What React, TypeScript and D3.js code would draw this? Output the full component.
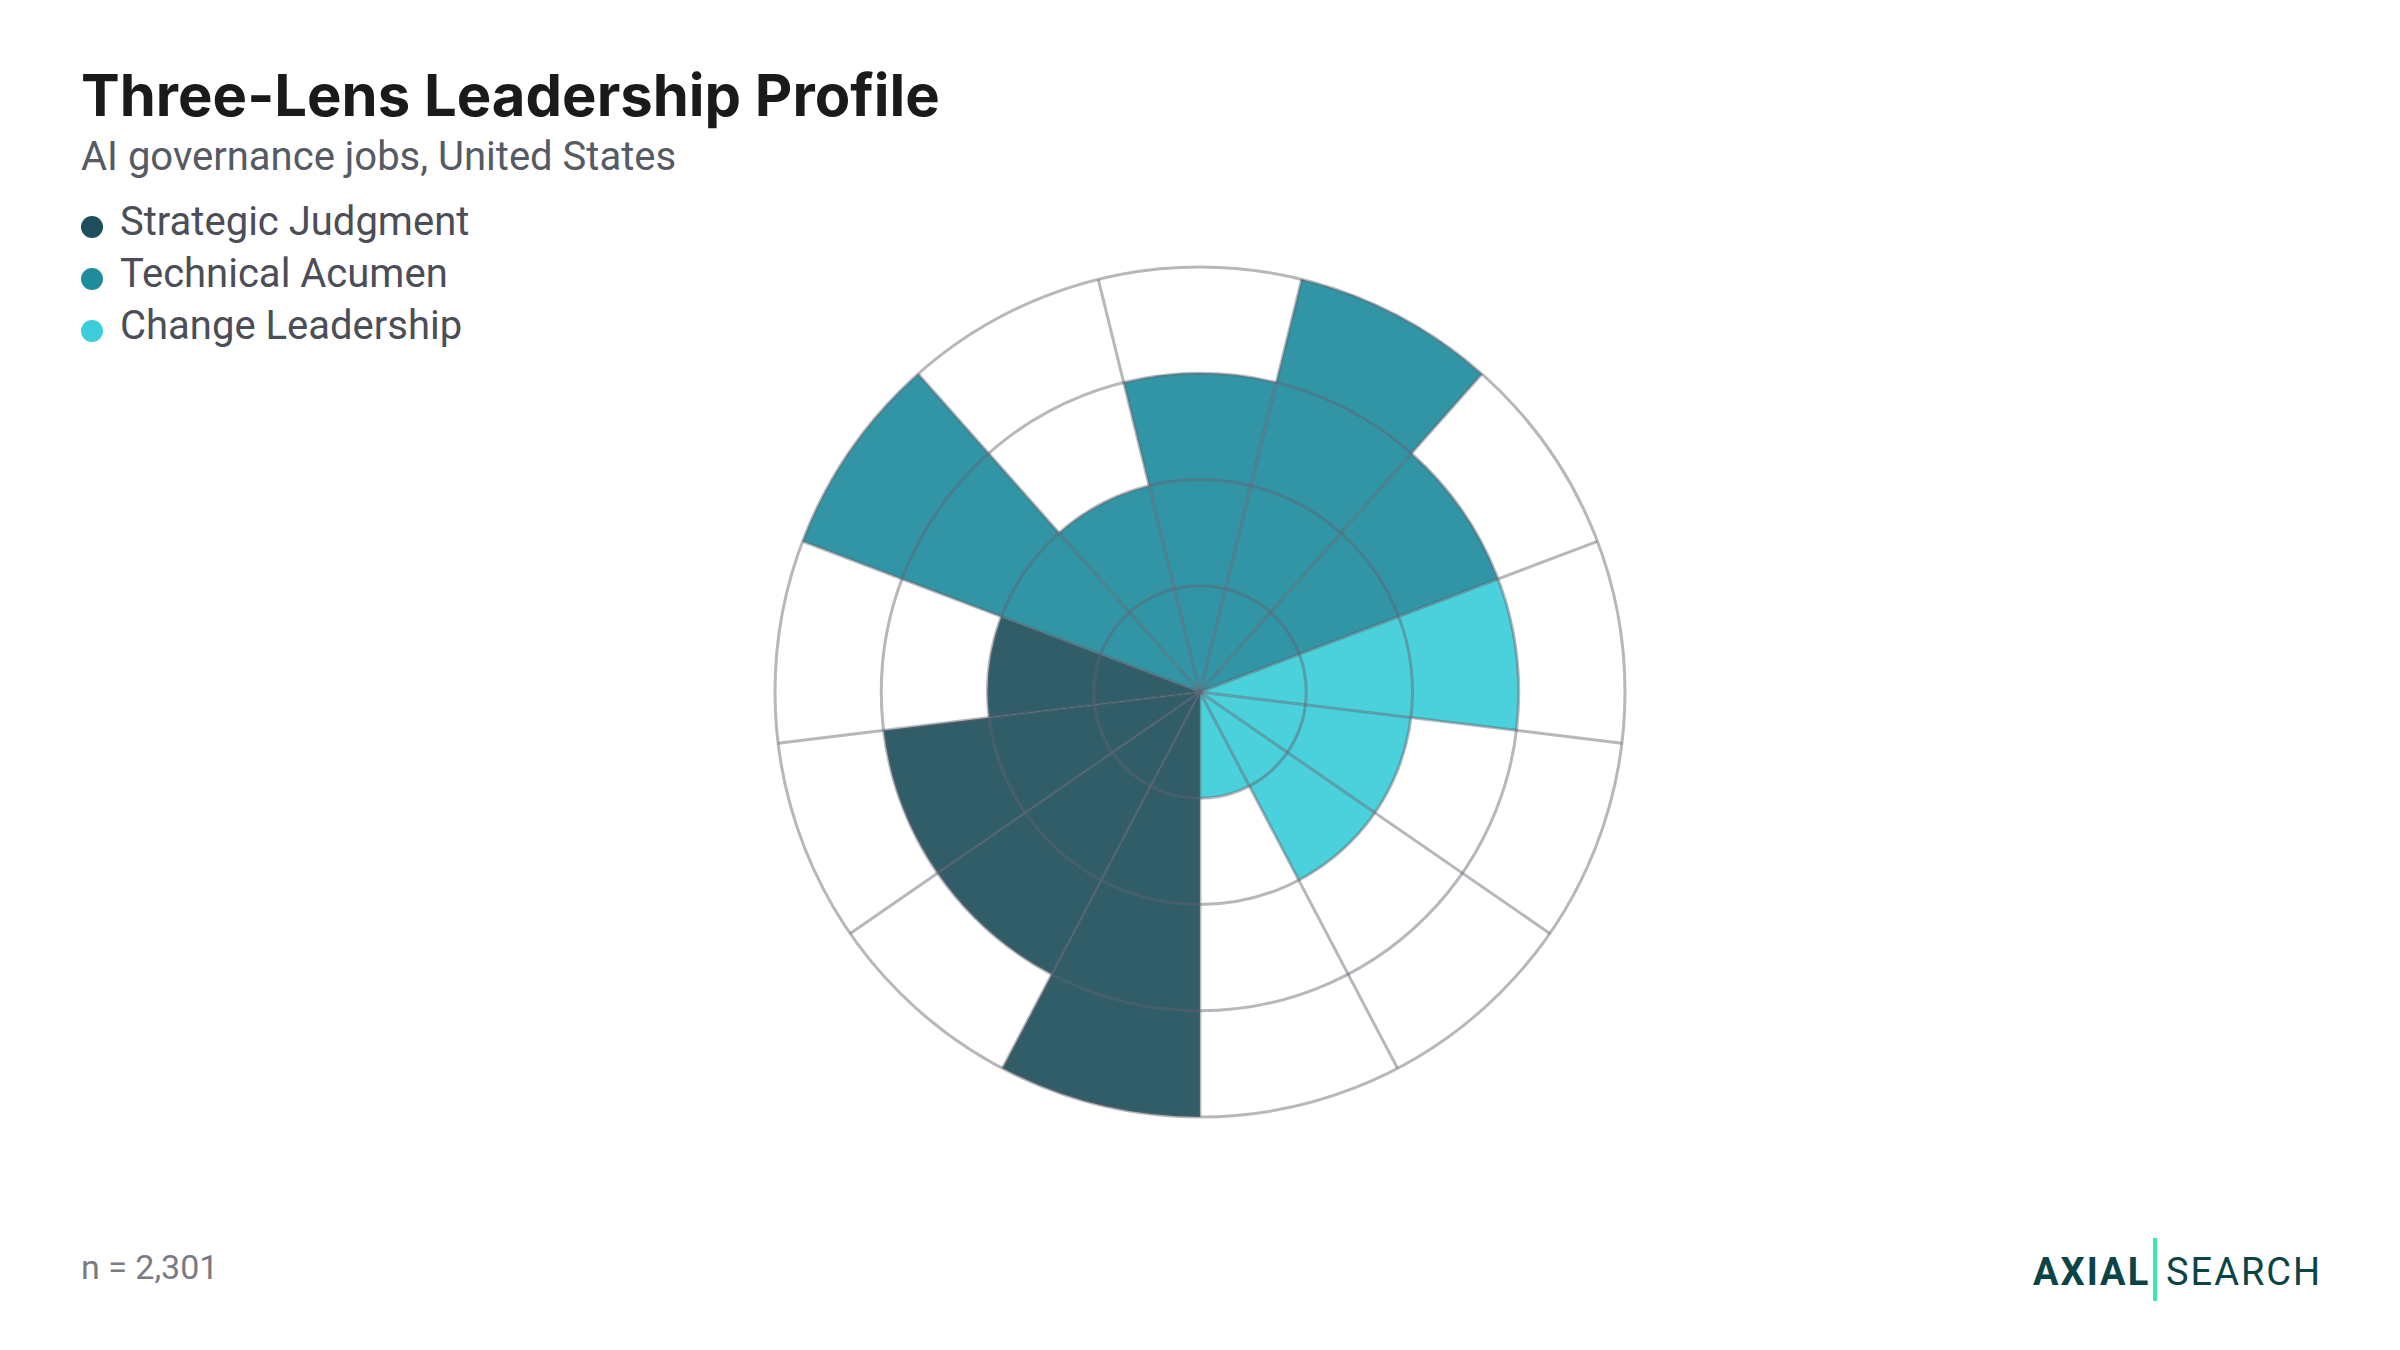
import React, { useEffect, useRef } from 'react';
import * as d3 from 'd3';

// lens of each of the 13 competency sectors, clockwise from 6 o'clock
const LENSES = ['Strategic Judgment', 'Technical Acumen', 'Change Leadership'];
const LENS_COLORS = ['#1f4f5c', '#1f8c9e', '#3bcdd9'];
const SECTOR_LENS = [0, 0, 0, 0, 1, 1, 1, 1, 1, 2, 2, 2, 2];
const SECTOR_VALUES = [4, 3, 3, 2, 4, 2, 3, 4, 3, 3, 2, 2, 1];
const RING_TICKS = [1, 2, 3, 4];

const TITLE = 'Three-Lens Leadership Profile';
const SUBTITLE = 'AI governance jobs, United States';
const NOTE = 'n = 2,301';

const App: React.FC = () => {
  const svgRef = useRef<SVGSVGElement>(null);

  useEffect(() => {
    if (!svgRef.current) return;
    document.body.style.margin = '0';

    const width = 2400;
    const height = 1350;
    const cx = 1200;
    const cy = 692;
    const outer = 425;

    const svg = d3.select(svgRef.current)
      .attr('width', width)
      .attr('height', height)
      .attr('viewBox', `0 0 ${width} ${height}`)
      .html('');

    svg.append('rect').attr('width', width).attr('height', height).attr('fill', '#ffffff');

    // header
    svg.append('text')
      .attr('x', 81).attr('y', 116)
      .attr('font-family', 'Inter, sans-serif')
      .attr('font-weight', 700)
      .attr('font-size', 58)
      .attr('fill', '#1a1a1a')
      .text(TITLE);

    svg.append('text')
      .attr('x', 81).attr('y', 170)
      .attr('font-family', 'Roboto, sans-serif')
      .attr('font-size', 40)
      .attr('fill', '#555a64')
      .text(SUBTITLE);

    const legend = svg.append('g');
    LENSES.forEach((name, i) => {
      const y = 226 + i * 52;
      legend.append('circle')
        .attr('cx', 92).attr('cy', y + 1).attr('r', 11)
        .attr('fill', LENS_COLORS[i]);
      legend.append('text')
        .attr('x', 120).attr('y', y + 9)
        .attr('font-family', 'Roboto, sans-serif')
        .attr('font-size', 40)
        .attr('fill', '#4b4d57')
        .text(name);
    });

    // polar bars
    const n = SECTOR_VALUES.length;
    const step = (2 * Math.PI) / n;
    const start = Math.PI;
    const r = d3.scaleLinear().domain([0, 4]).range([0, outer]);

    const chart = svg.append('g').attr('transform', `translate(${cx}, ${cy})`);
    const arc = d3.arc<number>()
      .innerRadius(0)
      .outerRadius(d => r(d))
      .startAngle((d, i) => start + i * step)
      .endAngle((d, i) => start + (i + 1) * step);

    chart.selectAll('path.bar')
      .data(SECTOR_VALUES)
      .enter()
      .append('path')
      .attr('class', 'bar')
      .attr('d', (d, i) => arc(d, i) as string)
      .attr('fill', (d, i) => LENS_COLORS[SECTOR_LENS[i]])
      .attr('fill-opacity', 0.92);

    // grid on top
    const grid = chart.append('g')
      .attr('fill', 'none')
      .attr('stroke', '#62626e')
      .attr('stroke-opacity', 0.46)
      .attr('stroke-width', 3);

    RING_TICKS.forEach(t => {
      grid.append('circle').attr('r', r(t));
    });

    d3.range(n).forEach(i => {
      const a = start + i * step;
      grid.append('line')
        .attr('x1', 0).attr('y1', 0)
        .attr('x2', Math.sin(a) * outer)
        .attr('y2', -Math.cos(a) * outer);
    });

    // footer
    svg.append('text')
      .attr('x', 81).attr('y', 1279)
      .attr('font-family', 'Roboto, sans-serif')
      .attr('font-size', 34)
      .attr('fill', '#7a7a84')
      .text(NOTE);

    const logo = svg.append('g');
    logo.append('text')
      .attr('x', 2033).attr('y', 1285)
      .attr('font-family', 'Roboto, sans-serif')
      .attr('font-weight', 700)
      .attr('font-size', 38)
      .attr('letter-spacing', 2)
      .attr('fill', '#0b4446')
      .text('AXIAL');
    logo.append('rect')
      .attr('x', 2153).attr('y', 1238)
      .attr('width', 4).attr('height', 63)
      .attr('fill', '#3ee6b4');
    logo.append('text')
      .attr('x', 2166).attr('y', 1285)
      .attr('font-family', 'Roboto, sans-serif')
      .attr('font-size', 38)
      .attr('letter-spacing', 2)
      .attr('fill', '#0b4446')
      .text('SEARCH');
  }, []);

  return (
    <svg ref={svgRef} style={{ display: 'block', position: 'absolute', left: 0, top: 0 }}></svg>
  );
};

export default App;
